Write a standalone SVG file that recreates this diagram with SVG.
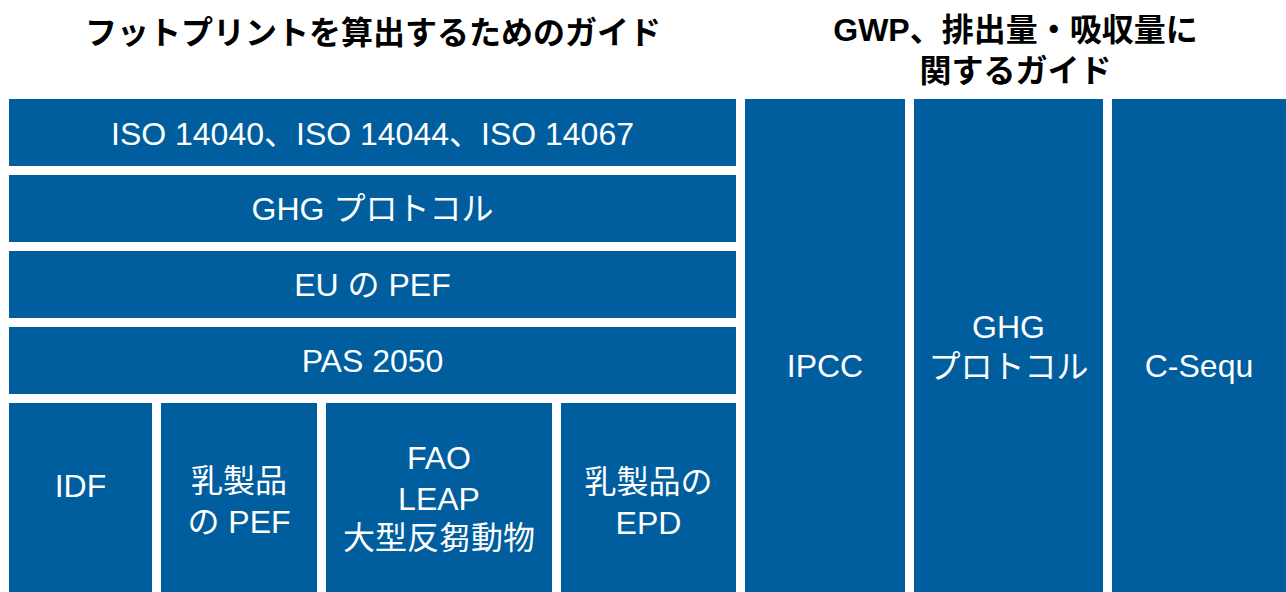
<svg xmlns="http://www.w3.org/2000/svg" width="1286" height="592" viewBox="0 0 1286 592">
<style>
.box{fill:#005E9E}
.t{font-family:"Liberation Sans","Noto Sans CJK JP",sans-serif;font-size:32px;fill:#ffffff;text-anchor:middle}
.h{font-family:"Liberation Sans","Noto Sans CJK JP",sans-serif;font-size:32px;font-weight:bold;fill:#000000;text-anchor:middle}
</style>
<rect x="0" y="0" width="1286" height="592" fill="#ffffff"/>
<g id="title-left"><text class="h" x="373" y="44">フットプリントを算出するためのガイド</text></g>
<g id="title-right"><text class="h" x="1015.5" y="41">GWP、排出量・吸収量に</text><text class="h" x="1015.5" y="82">関するガイド</text></g>
<g id="iso"><rect class="box" x="9" y="99" width="727" height="67"/><text class="t" x="372.5" y="145">ISO 14040、ISO 14044、ISO 14067</text></g>
<g id="ghg-row"><rect class="box" x="9" y="175" width="727" height="67"/><text class="t" x="372.5" y="220">GHG プロトコル</text></g>
<g id="eu-pef"><rect class="box" x="9" y="251" width="727" height="67"/><text class="t" x="372.5" y="296">EU の PEF</text></g>
<g id="pas2050"><rect class="box" x="9" y="327" width="727" height="67"/><text class="t" x="372.5" y="372">PAS 2050</text></g>
<g id="idf"><rect class="box" x="9" y="403" width="143" height="189"/><text class="t" x="80.5" y="497">IDF</text></g>
<g id="dairy-pef"><rect class="box" x="161" y="403" width="156" height="189"/><text class="t" x="239" y="492">乳製品</text><text class="t" x="239" y="533">の PEF</text></g>
<g id="fao-leap"><rect class="box" x="326" y="403" width="226" height="189"/><text class="t" x="439" y="469">FAO</text><text class="t" x="439" y="510">LEAP</text><text class="t" x="439" y="549">大型反芻動物</text></g>
<g id="dairy-epd"><rect class="box" x="561" y="403" width="175" height="189"/><text class="t" x="648.5" y="493">乳製品の</text><text class="t" x="648.5" y="534">EPD</text></g>
<g id="ipcc"><rect class="box" x="745" y="99" width="160" height="493"/><text class="t" x="825" y="377">IPCC</text></g>
<g id="ghg-col"><rect class="box" x="914" y="99" width="189" height="493"/><text class="t" x="1008.5" y="338">GHG</text><text class="t" x="1008.5" y="378">プロトコル</text></g>
<g id="c-sequ"><rect class="box" x="1112" y="99" width="174" height="493"/><text class="t" x="1199" y="377">C-Sequ</text></g>
<g id="connectors"></g>
</svg>
